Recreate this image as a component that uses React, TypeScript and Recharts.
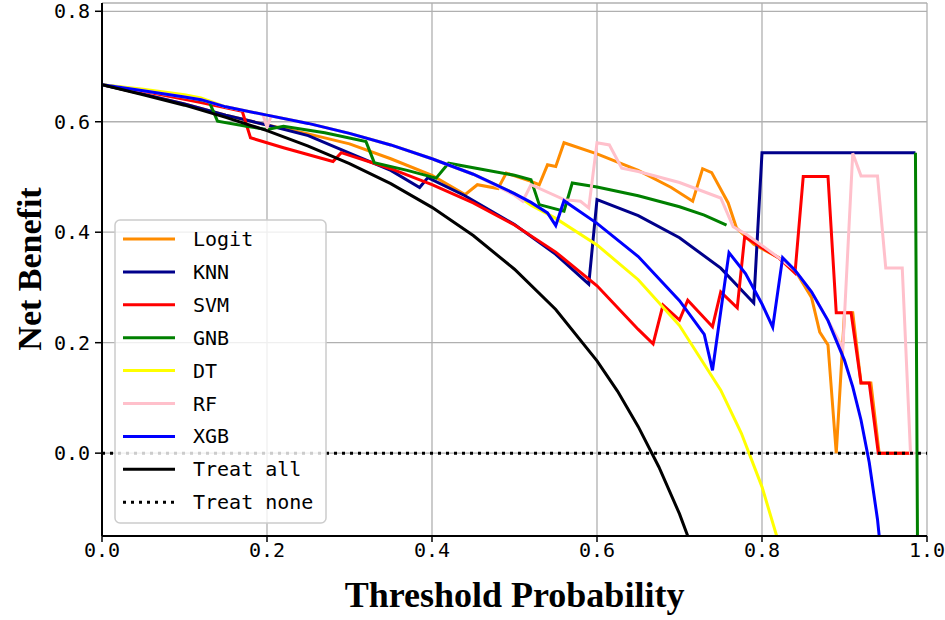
import { LineChart, Line, XAxis, YAxis, CartesianGrid } from "recharts";

type Pt = [number, number | null];

// net benefit curves: [threshold, net benefit]
const logitNB: Pt[] = [
  [0, 0.667], [0.05, 0.65], [0.1, 0.632], [0.15, 0.612], [0.2, 0.594], [0.25, 0.578],
  [0.3, 0.56], [0.35, 0.533], [0.4, 0.503], [0.44, 0.468], [0.455, 0.486], [0.48, 0.479],
  [0.49, 0.507], [0.52, 0.492], [0.53, 0.486], [0.54, 0.522], [0.55, 0.519], [0.56, 0.562],
  [0.6, 0.542], [0.65, 0.512], [0.69, 0.481], [0.716, 0.456], [0.728, 0.515], [0.739, 0.508],
  [0.759, 0.453], [0.769, 0.408], [0.79, 0.378], [0.82, 0.354], [0.84, 0.331], [0.86, 0.282],
  [0.87, 0.219], [0.88, 0.196], [0.89, 0.0], [0.9, 0.254], [0.91, 0.254], [0.92, 0.127],
  [0.932, 0.127], [0.942, 0], [0.98, 0],
];

const knnNB: Pt[] = [
  [0, 0.667], [0.05, 0.65], [0.1, 0.632], [0.15, 0.612], [0.2, 0.594], [0.25, 0.575],
  [0.3, 0.543], [0.35, 0.512], [0.385, 0.481], [0.395, 0.499], [0.44, 0.466], [0.5, 0.414],
  [0.55, 0.36], [0.59, 0.306], [0.6, 0.459], [0.65, 0.43], [0.7, 0.39], [0.75, 0.335],
  [0.79, 0.272], [0.8, 0.544], [0.986, 0.544],
];

const svmNB: Pt[] = [
  [0, 0.667], [0.05, 0.655], [0.12, 0.635], [0.17, 0.619], [0.18, 0.571], [0.22, 0.553],
  [0.28, 0.528], [0.29, 0.544], [0.35, 0.515], [0.4, 0.486], [0.45, 0.453], [0.5, 0.413],
  [0.55, 0.364], [0.6, 0.303], [0.65, 0.224], [0.668, 0.198], [0.68, 0.268], [0.7, 0.241],
  [0.71, 0.277], [0.74, 0.229], [0.75, 0.292], [0.77, 0.263], [0.779, 0.392], [0.8, 0.372],
  [0.82, 0.354], [0.84, 0.326], [0.85, 0.501], [0.88, 0.501], [0.89, 0.254], [0.908, 0.254],
  [0.92, 0.127], [0.93, 0.127], [0.941, 0], [0.98, 0],
];

const gnbNB: Pt[] = [
  [0, 0.667], [0.05, 0.657], [0.1, 0.645], [0.13, 0.636], [0.14, 0.601], [0.175, 0.592],
  [0.2, 0.586], [0.22, 0.592], [0.27, 0.58], [0.32, 0.564], [0.33, 0.526], [0.37, 0.512],
  [0.405, 0.498], [0.42, 0.525], [0.46, 0.514], [0.5, 0.503], [0.52, 0.495], [0.53, 0.45],
  [0.56, 0.438], [0.57, 0.489], [0.6, 0.482], [0.65, 0.466], [0.7, 0.446], [0.73, 0.431],
  [0.757, 0.413], [0.8, null], [0.986, 0.544], [0.99, -0.6],
];

const dtNB: Pt[] = [
  [0, 0.667], [0.05, 0.659], [0.1, 0.649], [0.12, 0.643], [0.15, 0.627], [0.2, 0.612],
  [0.25, 0.597], [0.3, 0.579], [0.35, 0.558], [0.4, 0.533], [0.45, 0.505], [0.5, 0.47],
  [0.52, 0.449], [0.55, 0.425], [0.6, 0.377], [0.65, 0.314], [0.7, 0.231], [0.75, 0.114],
  [0.775, 0.036], [0.8, -0.061], [0.825, -0.186],
];

const rfNB: Pt[] = [
  [0, 0.667], [0.05, 0.656], [0.1, 0.645], [0.12, 0.64], [0.15, 0.627], [0.195, 0.6135],
  [0.2, 0.59], [0.205, 0.6105], [0.25, 0.597], [0.3, 0.579], [0.35, 0.558], [0.4, 0.533],
  [0.45, 0.505], [0.5, 0.467], [0.51, 0.456], [0.52, 0.486], [0.56, 0.459], [0.58, 0.456],
  [0.59, 0.444], [0.6, 0.562], [0.615, 0.558], [0.63, 0.516], [0.65, 0.51], [0.7, 0.49],
  [0.75, 0.462], [0.765, 0.41], [0.78, 0.397], [0.8, 0.376], [0.82, 0.354], [0.84, 0.331],
  [0.86, 0.292], [0.88, 0.24], [0.898, 0.19], [0.91, 0.543], [0.92, 0.502], [0.94, 0.502],
  [0.95, 0.335], [0.97, 0.335], [0.98, 0], [0.985, 0],
];

const xgbNB: Pt[] = [
  [0, 0.667], [0.05, 0.656], [0.1, 0.645], [0.12, 0.64], [0.15, 0.627], [0.2, 0.612],
  [0.25, 0.597], [0.3, 0.579], [0.35, 0.558], [0.4, 0.533], [0.45, 0.505], [0.5, 0.47],
  [0.52, 0.454], [0.54, 0.435], [0.55, 0.412], [0.56, 0.457], [0.6, 0.416], [0.65, 0.356],
  [0.7, 0.276], [0.73, 0.215], [0.74, 0.15], [0.76, 0.363], [0.78, 0.325], [0.8, 0.27],
  [0.813, 0.228], [0.825, 0.354], [0.84, 0.331], [0.86, 0.292], [0.88, 0.24], [0.9, 0.168],
  [0.91, 0.12], [0.92, 0.06], [0.93, -0.017], [0.94, -0.12], [0.95, -0.265],
];

const treatAllNB: Pt[] = [
  [0, 0.667], [0.05, 0.649], [0.1, 0.63], [0.15, 0.608], [0.2, 0.584], [0.25, 0.556],
  [0.3, 0.524], [0.35, 0.488], [0.4, 0.445], [0.45, 0.394], [0.5, 0.333], [0.55, 0.26],
  [0.6, 0.167], [0.625, 0.112], [0.65, 0.048], [0.675, -0.025], [0.7, -0.11], [0.72, -0.19],
];

const treatNoneNB: Pt[] = [[0, 0], [1, 0]];

const seriesNames = ["Logit", "KNN", "SVM", "GNB", "DT", "RF", "XGB", "Treat all", "Treat none"];
const seriesColors = ["#ff8c00", "#00008b", "#ff0000", "#008000", "#ffff00", "#ffc0cb", "#0000ff", "#000000", "#000000"];
const seriesData = [logitNB, knnNB, svmNB, gnbNB, dtNB, rfNB, xgbNB, treatAllNB, treatNoneNB];

const xTicks = [0, 0.2, 0.4, 0.6, 0.8, 1.0];
const yTicks = [0, 0.2, 0.4, 0.6, 0.8];

const MONO = "'DejaVu Sans Mono', 'Liberation Mono', monospace";
const SERIF = "'Liberation Serif', 'Times New Roman', serif";

const toRows = (pts: Pt[]) => pts.map(([t, v]) => ({ t, v }));

function LegendBox() {
  const rowGap = 32.9;
  return (
    <svg
      width={214}
      height={306}
      style={{ position: "absolute", left: 114, top: 219 }}
    >
      <rect x={1} y={1} width={211} height={303} rx={5} fill="rgba(255,255,255,0.8)" stroke="#cccccc" strokeWidth={1.5} />
      {seriesNames.map((name, i) => {
        const y = 20 + i * rowGap;
        return (
          <g key={name}>
            <line
              x1={9} x2={61} y1={y} y2={y}
              stroke={seriesColors[i]}
              strokeWidth={3}
              strokeDasharray={name === "Treat none" ? "3 5" : undefined}
            />
            <text x={79} y={y} dominantBaseline="central" fontFamily={MONO} fontSize={20} fill="#000">
              {name}
            </text>
          </g>
        );
      })}
    </svg>
  );
}

export default function App() {
  return (
    <div style={{ position: "relative", width: 945, height: 620, background: "#fff" }}>
      <style>{"body{margin:0}"}</style>
      <LineChart width={945} height={620} margin={{ top: 3, right: 18, bottom: 0, left: 0 }}>
        <CartesianGrid stroke="#b0b0b0" strokeWidth={1.3} />
        <XAxis
          type="number"
          dataKey="t"
          domain={[0, 1]}
          ticks={xTicks}
          interval={0}
          allowDataOverflow
          tickFormatter={(v: number) => v.toFixed(1)}
          height={84}
          axisLine={{ stroke: "#000", strokeWidth: 2 }}
          tickLine={{ stroke: "#000", strokeWidth: 1.5 }}
          tickSize={6}
          tickMargin={1}
          tick={{ fill: "#000", fontSize: 20, fontFamily: MONO }}
          label={{
            value: "Threshold Probability",
            position: "insideBottom",
            offset: 13,
            style: { fontFamily: SERIF, fontWeight: "bold", fontSize: 36, fill: "#000" },
          }}
        />
        <YAxis
          type="number"
          domain={[-0.15, 0.815]}
          ticks={yTicks}
          interval={0}
          allowDataOverflow
          tickFormatter={(v: number) => v.toFixed(1)}
          width={102}
          axisLine={{ stroke: "#000", strokeWidth: 2 }}
          tickLine={{ stroke: "#000", strokeWidth: 1.5 }}
          tickSize={7}
          tickMargin={5}
          tick={{ fill: "#000", fontSize: 20, fontFamily: MONO }}
          label={{
            content: () => (
              <text
                transform="translate(41,269) rotate(-90)"
                textAnchor="middle"
                fontFamily={SERIF}
                fontWeight="bold"
                fontSize={34}
                fill="#000"
              >
                Net Benefit
              </text>
            ),
          }}
        />
        {seriesData.map((pts, i) => (
          <Line
            key={seriesNames[i]}
            data={toRows(pts)}
            dataKey="v"
            type="linear"
            stroke={seriesColors[i]}
            strokeWidth={seriesNames[i] === "Treat none" ? 3 : 3}
            strokeDasharray={seriesNames[i] === "Treat none" ? "3 5" : undefined}
            dot={false}
            activeDot={false}
            isAnimationActive={false}
          />
        ))}
      </LineChart>
      <LegendBox />
    </div>
  );
}
